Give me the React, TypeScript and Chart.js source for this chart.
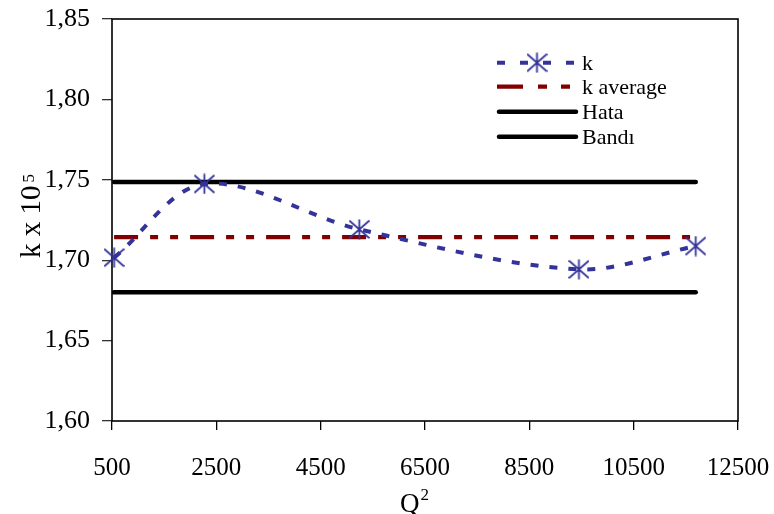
import React, { useEffect, useRef } from "react";
import { Chart, registerables } from "chart.js";

Chart.register(...registerables);

// Measured k values against Q²
const qSquared = [540, 2270, 5240, 9450, 11690];
const kValues = [1.7016, 1.7474, 1.7192, 1.6943, 1.7088];
// Mean of k and the ±2 % error band around it
const kAverage = 1.7143;
const bandUpper = 1.7486;
const bandLower = 1.68;
const bandSpan = [540, 11690];

const xTicks = [500, 2500, 4500, 6500, 8500, 10500, 12500];
const yTicks = [1.6, 1.65, 1.7, 1.75, 1.8, 1.85];
const seriesNames = ["k", "k average", "Hata", "Bandı"];

const SERIF = '"Liberation Serif", "Times New Roman", serif';
const BLUE = "#333399";
const DARK_RED = "#800000";

function makeStar(color: string, size = 21) {
  const c = document.createElement("canvas");
  c.width = size;
  c.height = size;
  const g = c.getContext("2d")!;
  const m = size / 2;
  const r = size / 2 - 0.5;
  g.strokeStyle = color;
  g.lineWidth = 1.8;
  g.lineCap = "butt";
  g.beginPath();
  g.moveTo(m, m - r);
  g.lineTo(m, m + r);
  g.moveTo(m - r, m - r * 0.88);
  g.lineTo(m + r, m + r * 0.88);
  g.moveTo(m + r, m - r * 0.88);
  g.lineTo(m - r, m + r * 0.88);
  g.stroke();
  return c;
}

const framePlugin = {
  id: "frame",
  beforeDatasetsDraw(chart: any) {
    const { ctx, chartArea: a } = chart;
    ctx.save();
    ctx.strokeStyle = "#000";
    ctx.lineWidth = 1.6;
    ctx.strokeRect(a.left, a.top, a.right - a.left, a.bottom - a.top);
    ctx.restore();
  },
};

const titlesPlugin = {
  id: "titles",
  afterDraw(chart: any) {
    const { ctx, chartArea: a } = chart;
    ctx.save();
    ctx.fillStyle = "#000";
    ctx.textBaseline = "alphabetic";
    ctx.textAlign = "left";

    // y axis title: k x 10^5, rotated
    ctx.save();
    ctx.translate(40, 258);
    ctx.rotate(-Math.PI / 2);
    ctx.font = `29px ${SERIF}`;
    const main = "k x 10";
    ctx.fillText(main, 0, 0);
    const w = ctx.measureText(main).width;
    ctx.font = `17px ${SERIF}`;
    ctx.fillText("5", w + 3, -6);
    ctx.restore();

    // x axis title: Q^2
    const cx = (a.left + a.right) / 2;
    ctx.font = `27px ${SERIF}`;
    const qw = ctx.measureText("Q").width;
    const qx = cx - 25;
    ctx.fillText("Q", qx, 512);
    ctx.font = `17px ${SERIF}`;
    ctx.fillText("2", qx + qw + 1, 500);
    ctx.restore();
  },
};

const legendPlugin = {
  id: "customLegend",
  afterDraw(chart: any) {
    const { ctx } = chart;
    const ds = chart.data.datasets;
    const x0 = 497;
    const x1 = 578;
    const rows = [62.7, 86.7, 111.7, 136.7];
    const dashes: number[][] = [[8, 15], [26, 15, 9, 14, 9, 14], [], []];
    ctx.save();
    rows.forEach((y, i) => {
      const d = ds[i];
      ctx.strokeStyle = d.borderColor;
      ctx.lineWidth = d.borderWidth;
      ctx.lineCap = i >= 2 ? "round" : "butt";
      ctx.setLineDash(dashes[i]);
      ctx.beginPath();
      ctx.moveTo(i >= 2 ? x0 + 2 : x0, y);
      ctx.lineTo(i >= 2 ? x1 - 2 : x1, y);
      ctx.stroke();
      ctx.setLineDash([]);
      if (i === 0) {
        const star = d.pointStyle as HTMLCanvasElement;
        const mx = (x0 + x1) / 2 - 0.5;
        ctx.drawImage(star, mx - star.width / 2, y - star.height / 2);
      }
      ctx.fillStyle = "#000";
      ctx.font = `22px ${SERIF}`;
      ctx.textAlign = "left";
      ctx.textBaseline = "alphabetic";
      ctx.fillText(seriesNames[i], 582, y + 7.5);
    });
    ctx.restore();
  },
};

export default function App() {
  const canvasRef = useRef<HTMLCanvasElement | null>(null);

  useEffect(() => {
    const canvas = canvasRef.current;
    if (!canvas) return;
    const star = makeStar(BLUE);

    const chart = new Chart(canvas, {
      type: "line",
      data: {
        datasets: [
          {
            label: seriesNames[0],
            data: qSquared.map((x, i) => ({ x, y: kValues[i] })),
            borderColor: BLUE,
            borderWidth: 4,
            borderDash: [8, 11],
            tension: 0.33,
            pointStyle: star as any,
            pointRadius: 11,
            clip: false as any,
            fill: false,
          },
          {
            label: seriesNames[1],
            data: bandSpan.map((x) => ({ x, y: kAverage })),
            borderColor: DARK_RED,
            borderWidth: 4.3,
            borderDash: [24, 12, 8, 12, 8, 12],
            pointRadius: 0,
            fill: false,
          },
          {
            label: seriesNames[2],
            data: bandSpan.map((x) => ({ x, y: bandUpper })),
            borderColor: "#000",
            borderWidth: 4.5,
            borderCapStyle: "round",
            pointRadius: 0,
            fill: false,
          },
          {
            label: seriesNames[3],
            data: bandSpan.map((x) => ({ x, y: bandLower })),
            borderColor: "#000",
            borderWidth: 4.5,
            borderCapStyle: "round",
            pointRadius: 0,
            fill: false,
          },
        ],
      },
      options: {
        responsive: false,
        animation: false,
        devicePixelRatio: 1,
        layout: { padding: { top: 19, right: 36, left: 0, bottom: 0 } },
        plugins: {
          legend: { display: false },
          tooltip: { enabled: false },
          title: { display: false },
        },
        scales: {
          x: {
            type: "linear",
            min: xTicks[0],
            max: xTicks[xTicks.length - 1],
            afterBuildTicks: (scale: any) => {
              scale.ticks = xTicks.map((value) => ({ value }));
            },
            afterFit: (scale: any) => {
              scale.height = 93;
              scale.paddingLeft = 0;
              scale.paddingRight = 0;
            },
            grid: {
              drawOnChartArea: false,
              drawTicks: true,
              tickLength: 9,
              color: "#000",
              lineWidth: 1.3,
            },
            border: { display: false },
            ticks: {
              color: "#000",
              padding: 23,
              maxRotation: 0,
              autoSkip: false,
              font: { family: SERIF, size: 25 },
              callback: (v: any) => String(v),
            },
          },
          y: {
            type: "linear",
            min: yTicks[0],
            max: yTicks[yTicks.length - 1],
            afterBuildTicks: (scale: any) => {
              scale.ticks = yTicks.map((value) => ({ value }));
            },
            afterFit: (scale: any) => {
              scale.width = 112;
              scale.paddingTop = 0;
              scale.paddingBottom = 0;
            },
            grid: {
              drawOnChartArea: false,
              drawTicks: true,
              tickLength: 10,
              color: "#333",
              lineWidth: 1.3,
            },
            border: { display: false },
            ticks: {
              color: "#000",
              padding: 12,
              autoSkip: false,
              font: { family: SERIF, size: 26 },
              callback: (v: any) => Number(v).toFixed(2).replace(".", ","),
            },
          },
        },
      },
      plugins: [framePlugin, titlesPlugin, legendPlugin],
    });

    return () => chart.destroy();
  }, []);

  return (
    <div style={{ position: "absolute", left: 0, top: 0, width: 774, height: 514, background: "#fff" }}>
      <canvas ref={canvasRef} width={774} height={514} style={{ display: "block" }} />
    </div>
  );
}
